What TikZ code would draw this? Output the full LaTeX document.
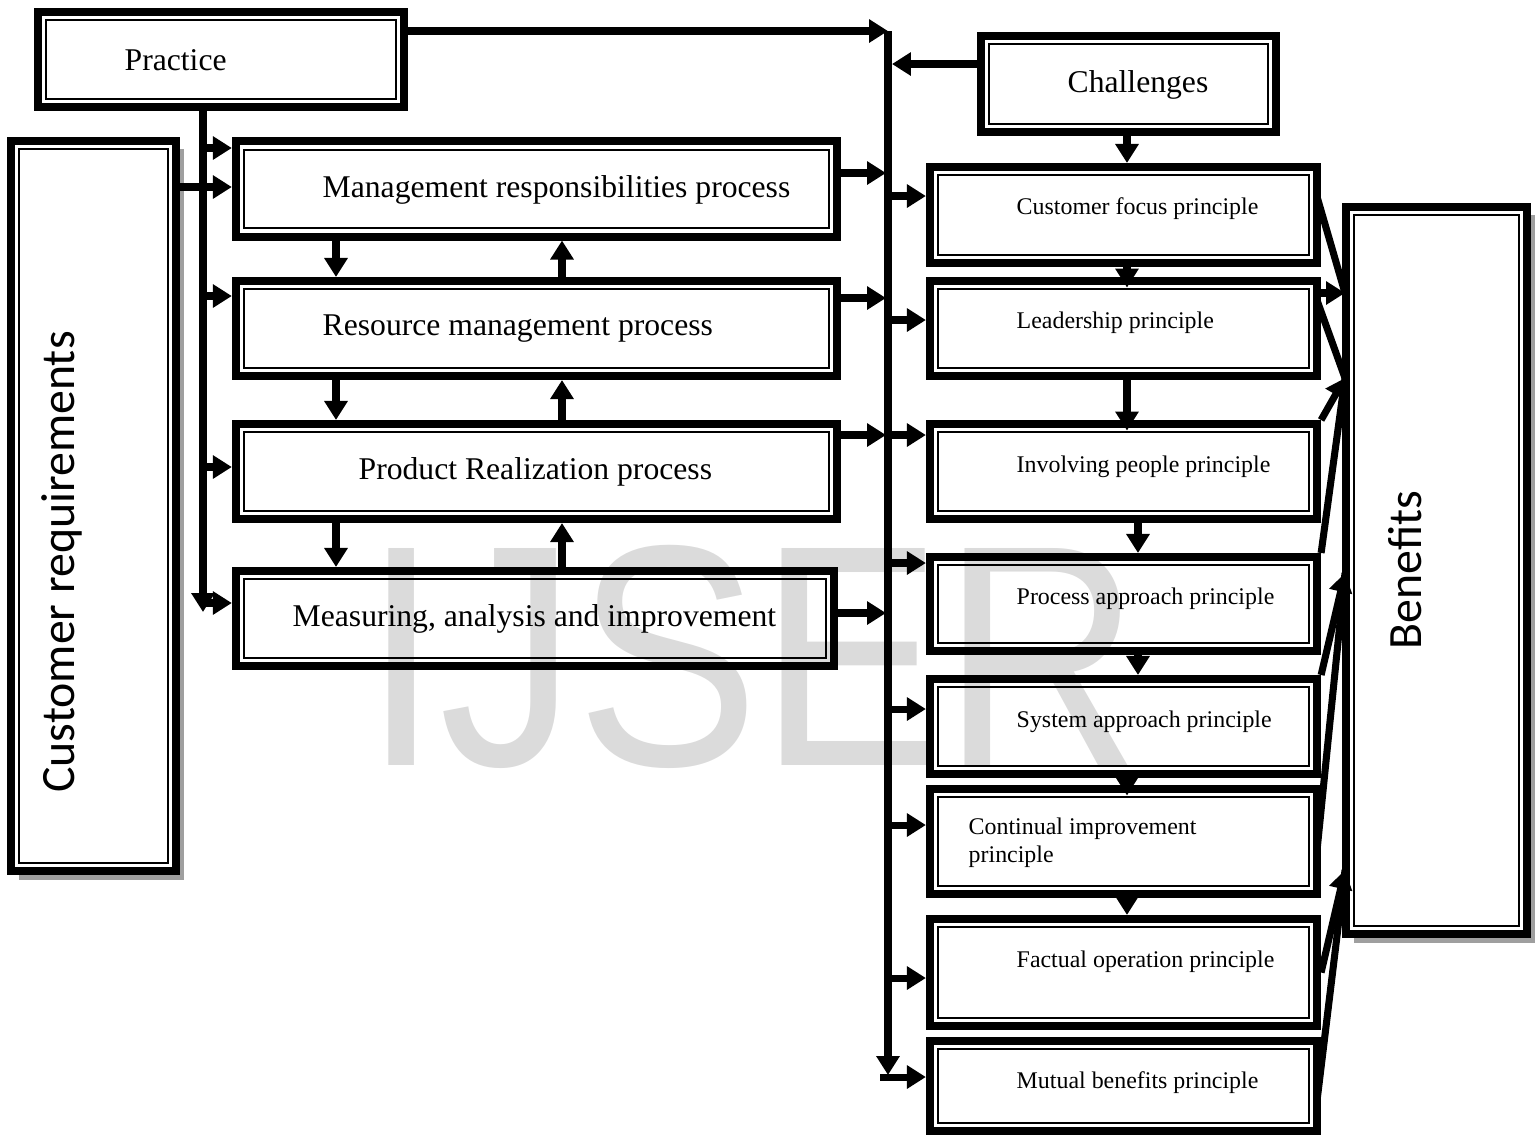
\documentclass[tikz,border=0pt]{standalone}
\usepackage{fontspec}
\setmainfont{Liberation Serif}
\newfontfamily\calib{Carlito}
\newfontfamily\wmark{Liberation Sans}
\usetikzlibrary{arrows.meta,shadows}

\begin{document}
\begin{tikzpicture}[x=0.01cm,y=-0.01cm,
  dbox/.style={draw,line width=0.8mm,inner sep=0pt,
    path picture={\draw[line width=0.55pt]
      ([shift={(2.3pt,2.3pt)}]path picture bounding box.south west) rectangle
      ([shift={(-2.3pt,-2.3pt)}]path picture bounding box.north east);}},
  lbox/.style={dbox,minimum width=6.01cm,minimum height=0.95cm},
  pbox/.style={dbox,minimum width=3.87cm},
  shadowbox/.style={fill=white,drop shadow={shadow xshift=2.4pt,shadow yshift=-2.4pt,fill=gray!75,opacity=1}},
  txt/.style={anchor=west,inner sep=0pt,font=\fontsize{9}{11}\selectfont},
  ptxt/.style={anchor=west,inner sep=0pt,align=left,font=\fontsize{6.8}{8}\selectfont},
  stxt/.style={rotate=90,inner sep=0pt,font=\calib\fontsize{13.6}{16}\selectfont},
  arr/.style={line width=2pt,-{Triangle[length=5.4pt,width=6.4pt]}},
  ln/.style={line width=2pt}]
\useasboundingbox (0,0) rectangle (1538,1135);

% watermark
\node[text=gray!28,inner sep=0pt,font=\wmark\fontsize{78}{78}\selectfont,yscale=1.15] (wm) at (752,657) {IJSER};

% boxes
\node[dbox,minimum width=3.66cm,minimum height=0.95cm] (prac) at (221,59.5) {};
\node[dbox,minimum width=2.95cm,minimum height=0.96cm] (chal) at (1128.5,84) {};
\node[dbox,shadowbox,minimum width=1.65cm,minimum height=7.30cm] (cust) at (93.5,506) {};
\node[dbox,shadowbox,minimum width=1.81cm,minimum height=7.27cm] (bene) at (1436.5,570.5) {};

\node[lbox] (mgmt) at (536.5,189) {};
\node[lbox] (res) at (536.5,328.5) {};
\node[lbox] (prod) at (536.5,471.5) {};
\node[lbox,minimum width=5.98cm] (meas) at (535,618.5) {};

\node[pbox,minimum height=0.96cm] (cf) at (1123.5,215) {};
\node[pbox,minimum height=0.95cm] (lead) at (1123.5,328.5) {};
\node[pbox,minimum height=0.95cm] (inv) at (1123.5,471.5) {};
\node[pbox,minimum height=0.94cm] (proc) at (1123.5,604) {};
\node[pbox,minimum height=0.95cm] (sys) at (1123.5,726.5) {};
\node[pbox,minimum height=1.05cm] (cont) at (1123.5,841.5) {};
\node[pbox,minimum height=1.07cm] (fact) at (1123.5,972.5) {};
\node[pbox,minimum height=0.90cm] (mut) at (1123.5,1086) {};

% texts
\node[txt] (t-prac) at (124,60) {Practice};
\node[txt] (t-chal) at (1067,85) {Challenges};
\node[stxt] (t-cust) at (62,562) {Customer requirements};
\node[stxt] (t-bene) at (1405,570) {Benefits};
\node[txt] (t-mgmt) at (322,190) {Management responsibilities process};
\node[txt] (t-res) at (322,329) {Resource management process};
\node[txt] (t-prod) at (358,472) {Product Realization process};
\node[txt] (t-meas) at (292,619) {Measuring, analysis and improvement};
\node[ptxt] (t-cf) at (1016,209) {Customer focus principle};
\node[ptxt] (t-lead) at (1016,323) {Leadership principle};
\node[ptxt] (t-inv) at (1016,467) {Involving people principle};
\node[ptxt] (t-proc) at (1016,599) {Process approach principle};
\node[ptxt] (t-sys) at (1016,722) {System approach principle};
\node[ptxt] (t-cont) at (968,843) {Continual improvement\\principle};
\node[ptxt] (t-fact) at (1016,962) {Factual operation principle};
\node[ptxt] (t-mut) at (1016,1083) {Mutual benefits principle};

% bus points
\coordinate (bus-top) at (888,31);
\coordinate (bus-end) at (888,1075);
\coordinate (c-in) at (892,64);
\coordinate (m-in) at (886,173);
\coordinate (r-in) at (886,298);
\coordinate (p-in) at (886,435);
\coordinate (a-in) at (886,613);
\coordinate (cf-out) at (888,196);
\coordinate (ld-out) at (888,320);
\coordinate (ip-out) at (888,435);
\coordinate (pa-out) at (888,563);
\coordinate (sa-out) at (888,709);
\coordinate (ci-out) at (888,825);
\coordinate (fo-out) at (888,978);
\coordinate (mb-out) at (880,1077);

% practice line
\coordinate (pv) at (203,612);
\coordinate (pv1) at (203,148);
\coordinate (pv2) at (203,296);
\coordinate (pv3) at (203,467);
\coordinate (pv4) at (203,603);
\coordinate (cr) at (0,187);

% columns of the up and down arrows
\coordinate (dl) at (336,0);
\coordinate (ul) at (562,0);
\coordinate (dr) at (1127,0);
\coordinate (dr2) at (1138,0);

% meeting points at Benefits
\coordinate (q1) at (1345,293);
\coordinate (q2) at (1345,378);
\coordinate (q3) at (1345,573);
\coordinate (q4) at (1345,870);

\draw[arr] (prac.east |- bus-top) -- (bus-top);
\draw[arr] (chal.west |- c-in) -- (c-in);
\draw[arr] (mgmt.east |- m-in) -- (m-in);
\draw[arr] (res.east |- r-in) -- (r-in);
\draw[arr] (prod.east |- p-in) -- (p-in);
\draw[arr] (meas.east |- a-in) -- (a-in);
\draw[arr,line width=2.1pt] (bus-top) -- (bus-end);

\draw[arr] (cf-out) -- (cf.west |- cf-out);
\draw[arr] (ld-out) -- (lead.west |- ld-out);
\draw[arr] (ip-out) -- (inv.west |- ip-out);
\draw[arr] (pa-out) -- (proc.west |- pa-out);
\draw[arr] (sa-out) -- (sys.west |- sa-out);
\draw[arr] (ci-out) -- (cont.west |- ci-out);
\draw[arr] (fo-out) -- (fact.west |- fo-out);
\draw[arr] (mb-out) -- (mut.west |- mb-out);

\draw[arr] (prac.south -| pv) -- (pv);
\draw[arr] (pv1) -- (mgmt.west |- pv1);
\draw[arr] (pv2) -- (res.west |- pv2);
\draw[arr] (pv3) -- (prod.west |- pv3);
\draw[arr] (pv4) -- (meas.west |- pv4);
\draw[arr] (cust.east |- cr) -- (mgmt.west |- cr);

\draw[arr] (mgmt.south -| dl) -- (res.north -| dl);
\draw[arr] (res.north -| ul) -- (mgmt.south -| ul);
\draw[arr] (res.south -| dl) -- (prod.north -| dl);
\draw[arr] (prod.north -| ul) -- (res.south -| ul);
\draw[arr] (prod.south -| dl) -- (meas.north -| dl);
\draw[arr] (meas.north -| ul) -- (prod.south -| ul);

\draw[arr] (chal.south -| dr) -- (cf.north -| dr);
\draw[arr,shorten >=-3pt] (cf.south -| dr) -- (lead.north -| dr);
\draw[arr,shorten >=-3pt] (lead.south -| dr) -- (inv.north -| dr);
\draw[arr] (inv.south -| dr2) -- (proc.north -| dr2);
\draw[arr] (proc.south -| dr2) -- (sys.north -| dr2);
\draw[arr,shorten >=-3pt] (sys.south -| dr) -- (cont.north -| dr);
\draw[arr] (cont.south -| dr) -- (fact.north -| dr);

\draw[ln] ([shift={(-4,-18)}]cf.east) -- (q1);
\draw[arr] (lead.east |- q1) -- (q1);
\draw[ln] ([shift={(-4,-28)}]lead.east) -- (q2);
\draw[arr] (inv.north east) -- (q2);
\draw[ln] (proc.north east) -- (q2);
\draw[arr] (sys.north east) -- (q3);
\draw[ln] ([shift={(-4,8)}]cont.east) -- (q3);
\draw[arr] (fact.east) -- (q4);
\draw[ln] ([shift={(-4,14)}]mut.east) -- (q4);
\end{tikzpicture}
\end{document}
